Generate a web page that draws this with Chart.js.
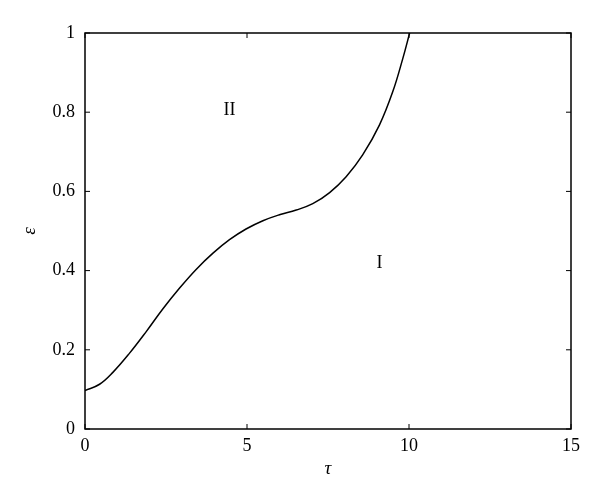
<!DOCTYPE html>
<html lang="en">
<head>
    <meta charset="UTF-8">
    <title>Phase boundary</title>
    <script src="https://cdn.jsdelivr.net/npm/chart.js"></script>
    <style>
        html, body { margin: 0; padding: 0; background: #fff; }
        .chart-box { width: 600px; height: 499px; }
    </style>
</head>
<body>
    <div class="chart-box">
        <canvas id="phaseChart" width="600" height="499"></canvas>
    </div>

    <script>
        // curve
        const tauValues = [0, 0.45, 0.86, 1.37, 1.89, 2.40, 2.92, 3.43, 3.95, 4.46, 4.97, 5.49, 6.0, 6.52, 7.03, 7.55, 8.06, 8.57, 9.09, 9.50, 9.81, 10.02];
        const epsValues = [0.097, 0.113, 0.143, 0.191, 0.246, 0.303, 0.356, 0.403, 0.444, 0.478, 0.505, 0.526, 0.541, 0.553, 0.569, 0.597, 0.637, 0.692, 0.768, 0.852, 0.936, 1.0];

        const xTicks = [0, 5, 10, 15];
        const yTicks = [0, 0.2, 0.4, 0.6, 0.8, 1];

        // region labels
        const regionNames = ['II', 'I'];
        const regionTau = [4.46, 9.09];
        const regionEps = [0.806, 0.419];

        const serif = 'Liberation Serif, Times New Roman, DejaVu Serif, serif';

        // frame + inward ticks + region labels
        const framePlugin = {
            id: 'frame',
            afterDraw(chart) {
                const ctx = chart.ctx;
                const area = chart.chartArea;
                const xs = chart.scales.x;
                const ys = chart.scales.y;
                ctx.save();
                ctx.strokeStyle = '#000';
                ctx.lineWidth = 1.5;
                ctx.strokeRect(area.left, area.top, area.right - area.left, area.bottom - area.top);

                ctx.lineWidth = 1;
                const len = 5;
                ctx.beginPath();
                xTicks.forEach(v => {
                    const px = xs.getPixelForValue(v);
                    ctx.moveTo(px, area.bottom);
                    ctx.lineTo(px, area.bottom - len);
                    ctx.moveTo(px, area.top);
                    ctx.lineTo(px, area.top + len);
                });
                yTicks.forEach(v => {
                    const py = ys.getPixelForValue(v);
                    ctx.moveTo(area.left, py);
                    ctx.lineTo(area.left + len, py);
                    ctx.moveTo(area.right, py);
                    ctx.lineTo(area.right - len, py);
                });
                ctx.stroke();

                ctx.fillStyle = '#000';
                ctx.font = '18px ' + serif;
                ctx.textAlign = 'center';
                ctx.textBaseline = 'middle';
                regionNames.forEach((name, i) => {
                    ctx.fillText(name, xs.getPixelForValue(regionTau[i]), ys.getPixelForValue(regionEps[i]));
                });
                ctx.restore();
            }
        };

        const ctx = document.getElementById('phaseChart').getContext('2d');
        new Chart(ctx, {
            type: 'line',
            data: {
                datasets: [{
                    data: tauValues.map((t, i) => ({ x: t, y: epsValues[i] })),
                    borderColor: '#000',
                    borderWidth: 1.5,
                    pointRadius: 0,
                    fill: false,
                    tension: 0.4
                }]
            },
            options: {
                responsive: false,
                animation: false,
                layout: { padding: { left: 0, right: 29, top: 33, bottom: 0 } },
                plugins: {
                    legend: { display: false },
                    tooltip: { enabled: false }
                },
                scales: {
                    x: {
                        type: 'linear',
                        min: 0,
                        max: 15,
                        afterBuildTicks: (scale) => { scale.ticks = xTicks.map(v => ({ value: v })); },
                        afterFit: (scale) => { scale.height = 70; },
                        grid: { display: false, drawTicks: false },
                        border: { display: false },
                        ticks: {
                            color: '#000', padding: 6,
                            font: { family: serif, size: 18 },
                            callback: (v) => String(v)
                        },
                        title: {
                            display: true,
                            text: 'τ',
                            color: '#000',
                            padding: { top: 0, bottom: 19 },
                            font: { family: serif, size: 19, style: 'italic' }
                        }
                    },
                    y: {
                        min: 0,
                        max: 1,
                        afterBuildTicks: (scale) => { scale.ticks = yTicks.map(v => ({ value: v })); },
                        afterFit: (scale) => { scale.width = 85; },
                        grid: { display: false, drawTicks: false },
                        border: { display: false },
                        ticks: {
                            color: '#000', padding: 10,
                            font: { family: serif, size: 18 },
                            callback: (v) => String(v)
                        },
                        title: {
                            display: true,
                            text: 'ε',
                            color: '#000',
                            padding: { top: 19, bottom: 0 },
                            font: { family: serif, size: 19, style: 'italic' }
                        }
                    }
                }
            },
            plugins: [framePlugin]
        });
    </script>
</body>
</html>
